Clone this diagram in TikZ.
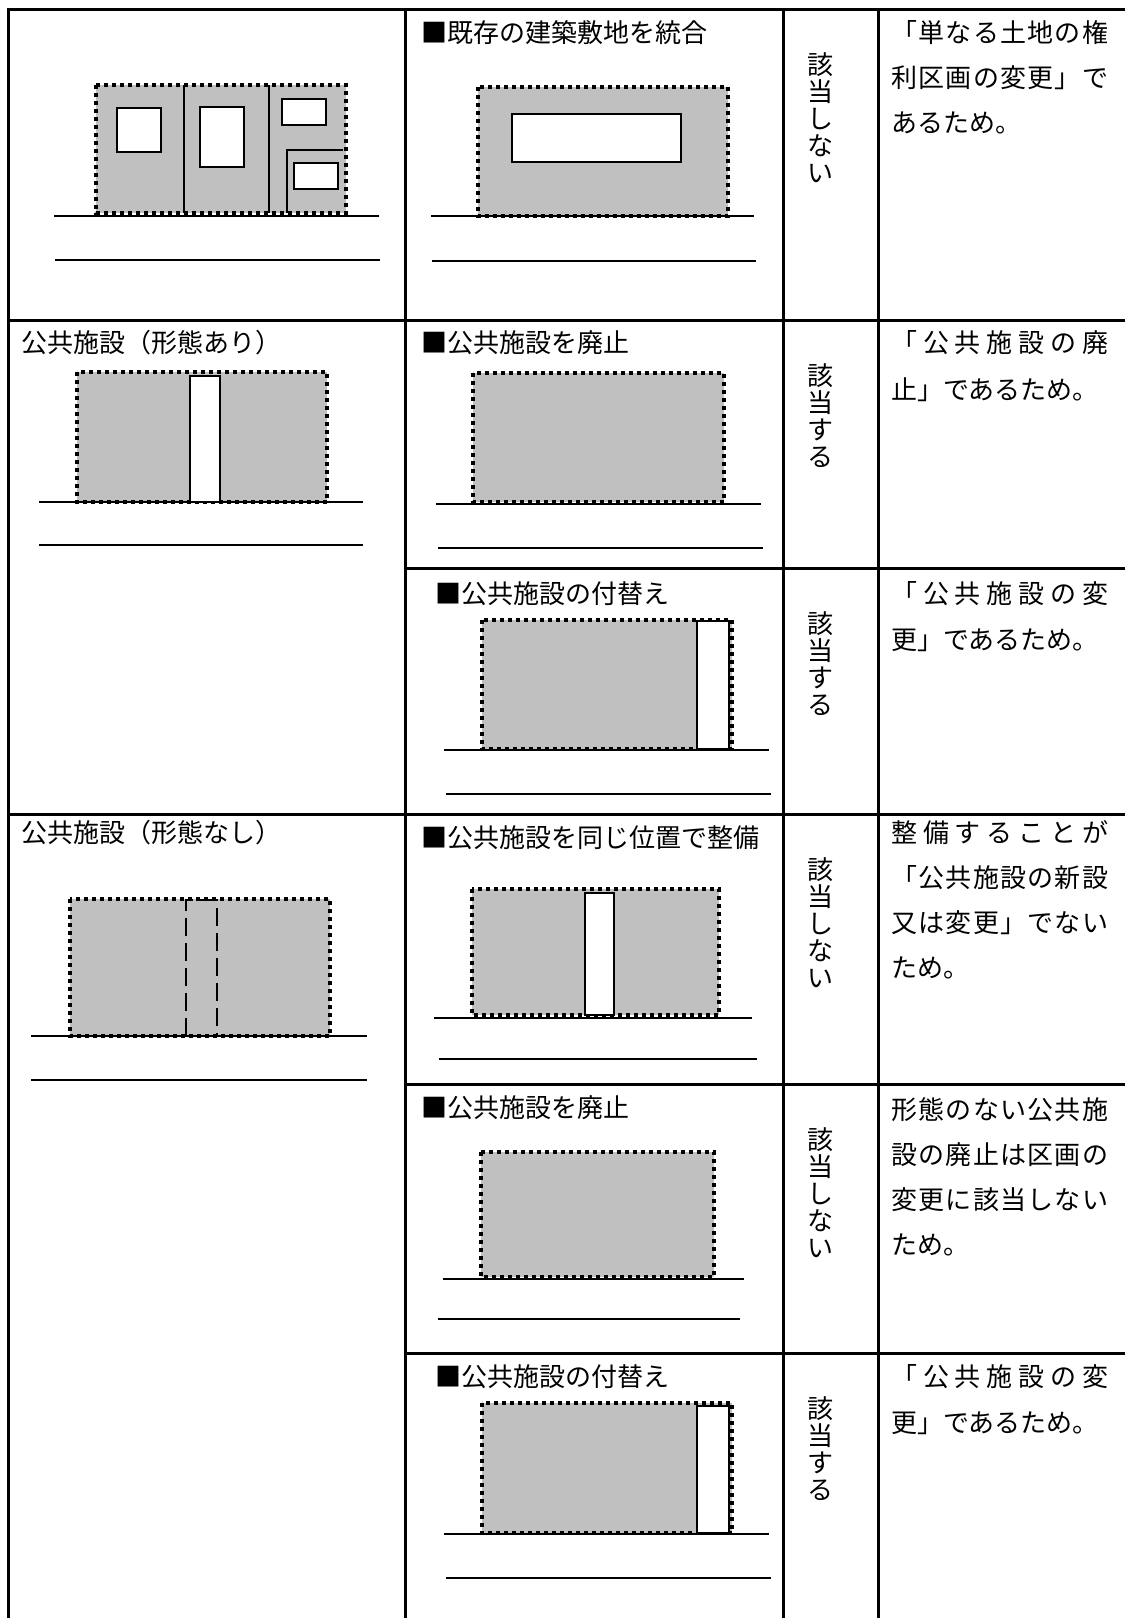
\documentclass[tikz,border=0pt]{standalone}
\usepackage{fontspec}
\setmainfont{Noto Sans CJK JP}
\definecolor{gfill}{RGB}{192,192,192}
\def\spreadchars#1{\spreadfirst#1\relax}
\def\spreadfirst#1{#1\spreadrest}
\def\spreadrest#1{\ifx\relax#1\else\hfil#1\expandafter\spreadrest\fi}
\newcommand{\J}[1]{\makebox[217pt][s]{\spreadchars{#1}}}
\newcommand{\vtext}[3]{%
  \foreach \ch [count=\i] in {#3}
    \node[vch] (#1\i) at (820,{#2+29+27*\i}) {\ch};}
\tikzset{
  tl/.style={line width=3pt, line cap=rect},
  gl/.style={line width=2pt},
  lot/.style={fill=gfill, draw=black, line width=4pt, dash pattern=on 4pt off 4pt},
  win/.style={draw=black, fill=white, line width=2.2pt},
  dv/.style={line width=2pt},
  dstrip/.style={draw=black, line width=2pt, dash pattern=on 18pt off 7pt},
  txt/.style={inner sep=0pt, anchor=west, text height=22.9pt, text depth=3.1pt},
  vch/.style={inner sep=0pt, anchor=center, text height=22.9pt, text depth=3.1pt},
}
\begin{document}
\begin{tikzpicture}[x=1pt, y=-1pt, font=\fontsize{26pt}{27pt}\selectfont]
\useasboundingbox (0,0) rectangle (1125,1618);

% ---------- Row 1 left: several lots
\path[lot] (95.7,85) rectangle (345.7,213);
\draw[dv] (183.7,85) -- (183.7,213);
\draw[dv] (269.3,85) -- (269.3,213);
\draw[dv] (287.3,213) -- (287.3,150) -- (343,150);
\draw[win] (116.7,107.7) rectangle (161.3,152.3);
\draw[win] (200,106.7) rectangle (244.3,166.7);
\draw[win] (281.7,98.7) rectangle (326,125);
\draw[win] (293.7,162.7) rectangle (338.3,188.7);
\draw[gl] (54,216) -- (379,216);
\draw[gl] (55,260) -- (380,260);

% ---------- Row 1 middle
\node[txt] (m1) at (421,33) {■既存の建築敷地を統合};
\path[lot] (478,87) rectangle (728,216);
\draw[win] (512,114) rectangle (681,162);
\draw[gl] (431,216) -- (754,216);
\draw[gl] (432,261) -- (756,261);
\vtext{v1}{9}{該,当,し,な,い}
\node[txt] (r1a) at (891,33) {\J{「単なる土地の権}};
\node[txt] (r1b) at (891,78) {\J{利区画の変更」で}};
\node[txt] (r1c) at (891,123) {あるため。};

% ---------- Row 2 left
\node[txt] (l2) at (21,343) {公共施設（形態あり）};
\path[lot] (77,372) rectangle (327,502);
\draw[win] (190,376) rectangle (220,502);
\draw[gl] (39,502) -- (363,502);
\draw[gl] (39,545) -- (363,545);

% ---------- Row 2a middle
\node[txt] (m2a) at (421,343) {■公共施設を廃止};
\path[lot] (473,373) rectangle (724,502);
\draw[gl] (436,504) -- (761,504);
\draw[gl] (438,548) -- (763,548);
\vtext{v2}{320}{該,当,す,る}
\node[txt] (r2a) at (891,343) {\J{「公共施設の廃}};
\node[txt] (r2b) at (891,390) {止」であるため。};

% ---------- Row 2b middle
\node[txt] (m2b) at (435,594) {■公共施設の付替え};
\path[lot] (482,620) rectangle (732,749);
\draw[win] (697,621) rectangle (729,749);
\draw[gl] (444,750) -- (769,750);
\draw[gl] (446,794) -- (771,794);
\vtext{v3}{568}{該,当,す,る}
\node[txt] (r3a) at (891,594) {\J{「公共施設の変}};
\node[txt] (r3b) at (891,640) {更」であるため。};

% ---------- Row 3 left
\node[txt] (l3) at (21,833) {公共施設（形態なし）};
\path[lot] (70,899) rectangle (330,1036);
\draw[dstrip] (186,1036) -- (186,900) -- (217,900) -- (217,1036);
\draw[gl] (31,1036) -- (367,1036);
\draw[gl] (31,1080) -- (367,1080);

% ---------- Row 3a middle
\node[txt] (m3a) at (421,838) {■公共施設を同じ位置で整備};
\path[lot] (472,889) rectangle (719,1015);
\draw[win] (585,893) rectangle (614,1015);
\draw[gl] (434,1018) -- (752,1018);
\draw[gl] (439,1059) -- (757,1059);
\vtext{v4}{814}{該,当,し,な,い}
\node[txt] (r4a) at (891,833) {\J{整備することが}};
\node[txt] (r4b) at (891,878) {\J{「公共施設の新設}};
\node[txt] (r4c) at (891,923) {\J{又は変更」でない}};
\node[txt] (r4d) at (891,968) {ため。};

% ---------- Row 3b middle
\node[txt] (m3b) at (421,1108) {■公共施設を廃止};
\path[lot] (481,1152) rectangle (714,1277);
\draw[gl] (443,1279) -- (744,1279);
\draw[gl] (438,1319) -- (740,1319);
\vtext{v5}{1084}{該,当,し,な,い}
\node[txt] (r5a) at (891,1110) {\J{形態のない公共施}};
\node[txt] (r5b) at (891,1155) {\J{設の廃止は区画の}};
\node[txt] (r5c) at (891,1200) {\J{変更に該当しない}};
\node[txt] (r5d) at (891,1245) {ため。};

% ---------- Row 3c middle
\node[txt] (m3c) at (435,1377) {■公共施設の付替え};
\path[lot] (482,1403) rectangle (732,1533);
\draw[win] (697,1406) rectangle (729,1533);
\draw[gl] (444,1534) -- (769,1534);
\draw[gl] (446,1578) -- (771,1578);
\vtext{v6}{1353}{該,当,す,る}
\node[txt] (r6a) at (891,1377) {\J{「公共施設の変}};
\node[txt] (r6b) at (891,1423) {更」であるため。};

% ---------- Table grid
\draw[tl] (8,1625) -- (8,9) -- (1130,9);
\draw[tl] (405,9) -- (405,1625);
\draw[tl] (783,9) -- (783,1625);
\draw[tl] (878,9) -- (878,1625);
\draw[tl] (8,320) -- (1130,320);
\draw[tl] (405,568) -- (1130,568);
\draw[tl] (8,814) -- (1130,814);
\draw[tl] (405,1084) -- (1130,1084);
\draw[tl] (405,1353) -- (1130,1353);
\end{tikzpicture}
\end{document}
